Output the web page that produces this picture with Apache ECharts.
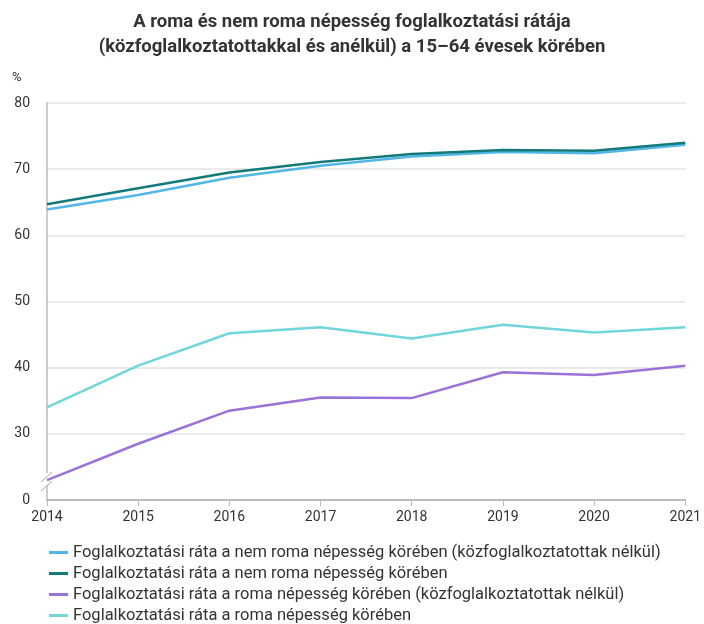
<!DOCTYPE html>
<html>
<head>
<meta charset="utf-8">
<script src="https://cdn.jsdelivr.net/npm/echarts@6/dist/echarts.min.js"></script>
<style>
  html, body { margin: 0; padding: 0; background: #fff; }
  #main { width: 704px; height: 624px; }
</style>
</head>
<body>
<div id="main"></div>
<script>
// évek
var years = ['2014', '2015', '2016', '2017', '2018', '2019', '2020', '2021'];

// sorozatok neve
var seriesNames = [
  'Foglalkoztatási ráta a nem roma népesség körében (közfoglalkoztatottak nélkül)',
  'Foglalkoztatási ráta a nem roma népesség körében',
  'Foglalkoztatási ráta a roma népesség körében (közfoglalkoztatottak nélkül)',
  'Foglalkoztatási ráta a roma népesség körében'
];

// értékek (%)
var nemRomaNelkul = [63.9, 66.1, 68.7, 70.5, 71.9, 72.6, 72.4, 73.7];
var nemRoma = [64.7, 67.1, 69.5, 71.1, 72.3, 72.9, 72.8, 74.0];
var romaNelkul = [23.0, 28.5, 33.5, 35.5, 35.4, 39.3, 38.9, 40.3];
var roma = [34.0, 40.3, 45.2, 46.1, 44.4, 46.5, 45.3, 46.1];

var colors = ['#52b6e6', '#127b79', '#9a72d9', '#70d6da'];

var myChart = echarts.init(document.getElementById('main'));

function makeSeries(name, data, color) {
  return {
    name: name,
    type: 'line',
    data: data,
    symbol: 'none',
    smooth: false,
    lineStyle: { width: 2.5, color: color },
    itemStyle: { color: color },
    z: 3
  };
}

var option = {
  animation: false,
  textStyle: { fontFamily: 'Roboto' },
  title: {
    text: 'A roma és nem roma népesség foglalkoztatási rátája\n(közfoglalkoztatottakkal és anélkül) a 15–64 évesek körében',
    left: 'center',
    top: 5,
    padding: [5, 0, 5, 28],
    textStyle: {
      fontFamily: 'Roboto',
      fontSize: 18.5,
      fontWeight: 'bold',
      color: '#333',
      lineHeight: 25
    }
  },
  legend: {
    orient: 'vertical',
    left: 49,
    top: 544,
    height: 120,
    padding: 0,
    itemWidth: 19,
    itemHeight: 3,
    itemGap: 4,
    icon: 'rect',
    data: seriesNames,
    textStyle: { fontFamily: 'Roboto', fontSize: 16.5, color: '#333', lineHeight: 16 }
  },
  grid: { left: 47, right: 15, top: 103, bottom: 124, containLabel: false },
  xAxis: {
    type: 'category',
    data: years,
    boundaryGap: false,
    axisLine: { lineStyle: { color: '#aaa', width: 1.5 } },
    axisTick: { show: true, length: 6, lineStyle: { color: '#bbb' } },
    axisLabel: { fontSize: 14, color: '#333', margin: 10, fontFamily: 'Roboto' },
    splitLine: { show: false }
  },
  yAxis: {
    type: 'value',
    min: 20,
    max: 80,
    interval: 10,
    axisLine: { show: true, lineStyle: { color: '#bbb', width: 1.5 } },
    axisTick: { show: false },
    axisLabel: {
      fontSize: 14, color: '#333', margin: 17, fontFamily: 'Roboto',
      // a 20-as szint helyén a tengely törése után 0 áll
      formatter: function (v) { return v === 20 ? '0' : String(v); }
    },
    splitLine: { lineStyle: { color: '#e3e3e3', width: 1.5 } }
  },
  series: [
    makeSeries(seriesNames[0], nemRomaNelkul, colors[0]),
    makeSeries(seriesNames[1], nemRoma, colors[1]),
    makeSeries(seriesNames[2], romaNelkul, colors[2]),
    makeSeries(seriesNames[3], roma, colors[3])
  ]
};

myChart.setOption(option);

// "%" felirat és a tengelytörés jele
var top80 = myChart.convertToPixel({ gridIndex: 0 }, [0, 80]);
var brk = myChart.convertToPixel({ gridIndex: 0 }, [0, 23]);
var bx = brk[0], by = brk[1];
myChart.setOption({
  graphic: [
    {
      type: 'text', left: 12, top: top80[1] - 32, z: 5,
      style: { text: '%', fontSize: 13, fill: '#333', fontFamily: 'Roboto' }
    },
    {
      type: 'rect', z: 1,
      shape: { x: bx - 3, y: by - 7, width: 6, height: 12 },
      style: { fill: '#fff' }
    },
    {
      type: 'line', z: 1,
      shape: { x1: bx - 6, y1: by + 2, x2: bx + 5, y2: by - 8 },
      style: { stroke: '#bbb', lineWidth: 1.2 }
    },
    {
      type: 'line', z: 1,
      shape: { x1: bx - 6, y1: by + 11, x2: bx + 5, y2: by + 1 },
      style: { stroke: '#bbb', lineWidth: 1.2 }
    }
  ]
});
</script>
</body>
</html>
